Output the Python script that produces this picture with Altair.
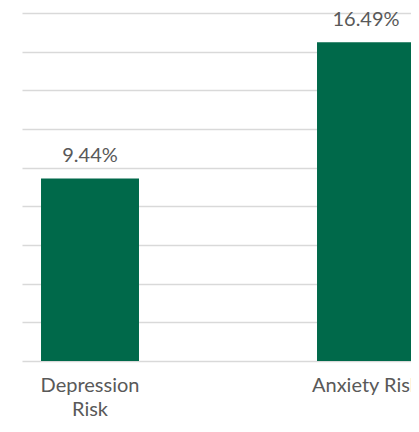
import altair as alt
import pandas as pd

categories = ["Depression Risk", "Anxiety Risk"]
values = [9.44, 16.49]
labels = ["9.44%", "16.49%"]

df = pd.DataFrame({"category": categories, "value": values, "label": labels})

FONT = "Lato"
GREEN = "#00694A"
TEXT = "#595959"

x = alt.X(
    "category:N",
    sort=categories,
    scale=alt.Scale(range=[0, 397], paddingInner=0.645, paddingOuter=0.0417, align=0.826),
    axis=alt.Axis(
        title=None,
        domain=False,
        ticks=False,
        grid=False,
        tickSize=0,
        labelAngle=0,
        labelFont=FONT,
        labelFontSize=20,
        labelColor=TEXT,
        labelPadding=14,
        labelLineHeight=24,
        labelOverlap=False,
        labelBound=False,
        labelExpr="datum.value == 'Depression Risk' ? ['Depression', 'Risk'] : datum.value",
    ),
)
y = alt.Y(
    "value:Q",
    scale=alt.Scale(domain=[0, 18], nice=False, zero=True),
    axis=alt.Axis(
        title=None,
        labels=False,
        ticks=False,
        domain=False,
        values=[0, 2, 4, 6, 8, 10, 12, 14, 16, 18],
        grid=True,
        gridColor="#d9d9d9",
        gridWidth=1.4,
    ),
)

bars = alt.Chart(df).mark_bar(color=GREEN).encode(x=x, y=y)
text = alt.Chart(df).mark_text(
    font=FONT, fontSize=20, color=TEXT, baseline="alphabetic", dy=-16
).encode(x=x, y=y, text="label:N")

chart = (
    alt.layer(bars, text)
    .properties(
        width=389,
        height=348,
        background="white",
        padding={"left": 14, "top": 5, "right": 0, "bottom": 59},
        autosize=alt.AutoSizeParams(type="none"),
    )
    .configure_view(strokeWidth=0)
)

chart.save("out.html", embed_options={"renderer": "svg", "actions": False})
